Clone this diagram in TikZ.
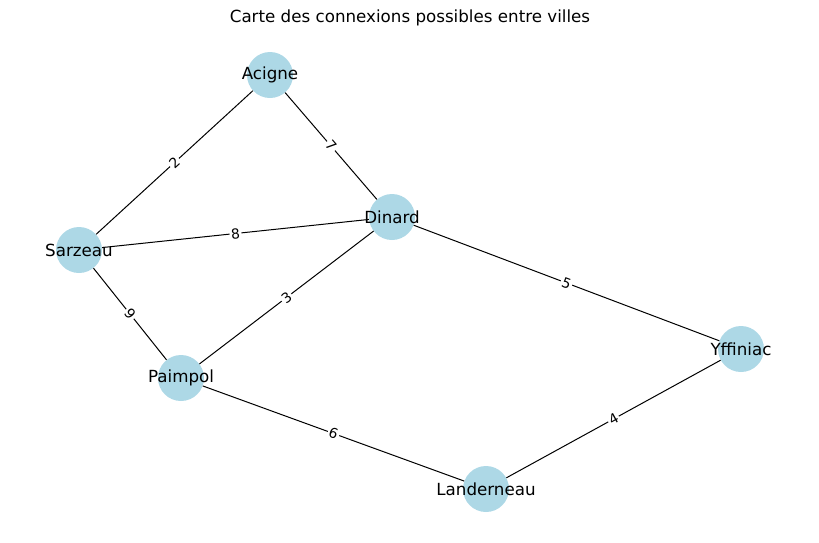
\documentclass[tikz,border=0pt]{standalone}
\usepackage{fontspec}
\setmainfont{DejaVu Sans}
\definecolor{lblue}{HTML}{ADD8E6}
\begin{document}
\begin{tikzpicture}[x=1pt,y=-1pt,
  city/.style={circle,fill=lblue,minimum size=46pt,inner sep=0pt},
  cityname/.style={font=\fontsize{16.7}{18}\selectfont},
  road/.style={draw=black,line width=1pt},
  wlabel/.style={fill=white,inner sep=1.5pt,sloped,midway,font=\fontsize{13.9}{15}\selectfont}]
\useasboundingbox (0,0) rectangle (819,542);
\node[font=\fontsize{16.7}{18}\selectfont] (title) at (410,18) {Carte des connexions possibles entre villes};
\node[city] (A) at (270,75) {};
\node[city] (D) at (392,217) {};
\node[city] (S) at (79,250) {};
\node[city] (P) at (181,378) {};
\node[city] (Y) at (741,349) {};
\node[city] (L) at (486,489) {};
\path[road] (A) -- (S) node[wlabel] (e2) {2};
\path[road] (A) -- (D) node[wlabel] (e7) {7};
\path[road] (S) -- (D) node[wlabel] (e8) {8};
\path[road] (D) -- (Y) node[wlabel] (e5) {5};
\path[road] (S) -- (P) node[wlabel] (e9) {9};
\path[road] (P) -- (D) node[wlabel] (e3) {3};
\path[road] (P) -- (L) node[wlabel] (e6) {6};
\path[road] (L) -- (Y) node[wlabel] (e4) {4};
\node[cityname] (tA) at (A.center) {Acigne};
\node[cityname] (tD) at (D.center) {Dinard};
\node[cityname] (tS) at (S.center) {Sarzeau};
\node[cityname] (tP) at (P.center) {Paimpol};
\node[cityname] (tY) at (Y.center) {Yffiniac};
\node[cityname] (tL) at (L.center) {Landerneau};
\end{tikzpicture}
\end{document}
